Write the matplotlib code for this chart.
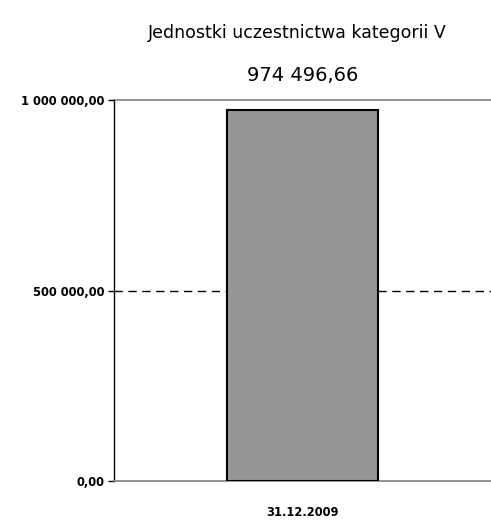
import matplotlib
matplotlib.use("Agg")
import matplotlib.pyplot as plt
from matplotlib.ticker import FuncFormatter

plt.rcParams["font.family"] = ["DejaVu Sans"]

title = "Jednostki uczestnictwa kategorii V"
categories = ["31.12.2009"]
values = [974496.66]
yticks = [0, 500000, 1000000]

def pl_fmt(v, pos=None):
    s = f"{v:,.2f}"
    return s.replace(",", " ").replace(".", ",")

fig = plt.figure(figsize=(4.91, 5.21), dpi=100)
ax = fig.add_axes([114/491, 40/521, 377/491, 381/521])
ax.bar(categories, values, width=0.403, color="#969696", edgecolor="black", linewidth=1.5, zorder=3)
ax.set_xlim(-0.5, 0.5)
ax.set_ylim(0, 1000000)
ax.set_yticks(yticks)
ax.yaxis.set_major_formatter(FuncFormatter(pl_fmt))
ax.axhline(500000, color="black", linestyle=(0, (6, 4)), linewidth=1.0, zorder=1)
ax.axhline(1000000, color="#808080", linewidth=1.2, zorder=1, clip_on=False)
for s in ["top", "right"]:
    ax.spines[s].set_visible(False)
ax.spines["left"].set_color("black")
ax.spines["left"].set_linewidth(1.0)
ax.spines["bottom"].set_color("#808080")
ax.spines["bottom"].set_linewidth(1.2)
ax.tick_params(axis="y", length=4, width=1, labelsize=8.3, pad=3)
ax.tick_params(axis="x", length=0, labelsize=8.3, pad=18)
for lab in ax.get_yticklabels() + ax.get_xticklabels():
    lab.set_fontweight("bold")
for i, v in enumerate(values):
    ax.text(i, 1000000 + 65000, pl_fmt(v), ha="center", va="center", fontsize=14)
fig.text(297/491, 1 - 33/521, title, ha="center", va="center", fontsize=12.5)
fig.savefig("out.png", dpi=100)
